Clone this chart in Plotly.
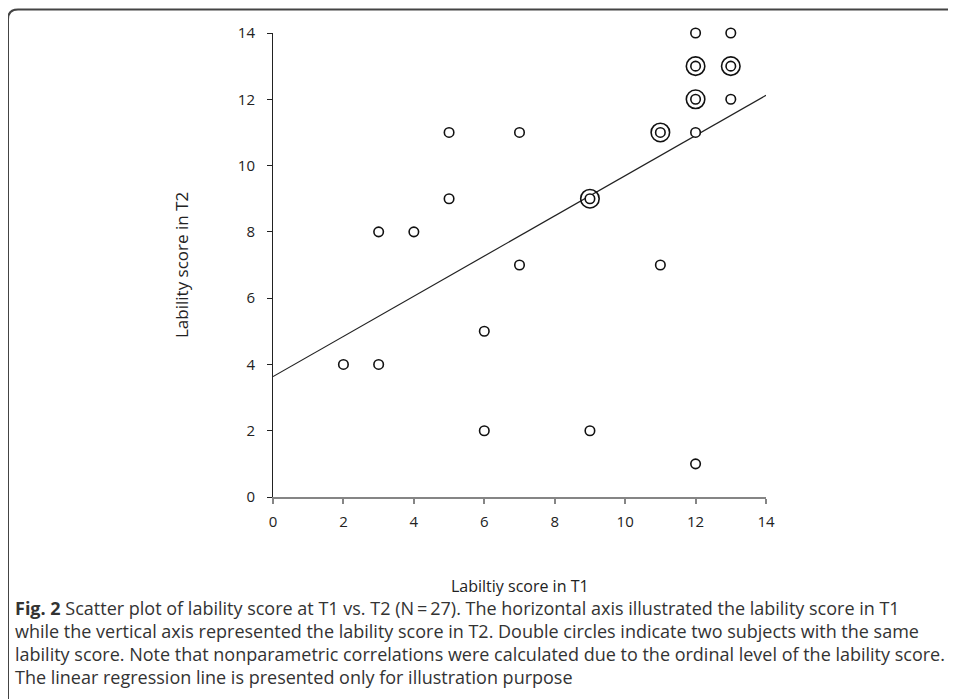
import numpy as np
import plotly.graph_objects as go

# Single subjects (T1, T2)
single_t1 = [2, 3, 3, 4, 5, 5, 6, 6, 7, 7, 9, 11, 12, 12, 12, 13, 13]
single_t2 = [4, 4, 8, 8, 9, 11, 5, 2, 11, 7, 2, 7, 11, 1, 14, 14, 12]
# Double circles: two subjects with the same scores
double_t1 = [9, 11, 12, 12, 13]
double_t2 = [9, 11, 13, 12, 13]

x_ticks = [0, 2, 4, 6, 8, 10, 12, 14]
y_ticks = [0, 2, 4, 6, 8, 10, 12, 14]

caption_lines = [
    "<b>Fig. 2</b> Scatter plot of lability score at T1 vs. T2 (N\u2009=\u200927). The horizontal axis illustrated the lability score in T1",
    "while the vertical axis represented the lability score in T2. Double circles indicate two subjects with the same",
    "lability score. Note that nonparametric correlations were calculated due to the ordinal level of the lability score.",
    "The linear regression line is presented only for illustration purpose",
]

# regression over all 27 subjects
all_x = np.array(single_t1 + double_t1 + double_t1, dtype=float)
all_y = np.array(single_t2 + double_t2 + double_t2, dtype=float)
slope, intercept = np.polyfit(all_x, all_y, 1)
line_x = np.array([0.0, 14.0])
line_y = intercept + slope * line_x

OFF = 8  # page body margin
W, H = 956 - OFF, 699 - OFF
L, R, T, B = 273 - OFF, 190, 33 - OFF, 202
pw, ph = W - L - R, H - T - B


def px(x):  # screen x -> paper
    return (x - OFF - L) / pw


def py(y):  # screen y -> paper
    return (H - B - (y - OFF)) / ph


fig = go.Figure()
fig.add_trace(go.Scatter(x=line_x, y=line_y, mode="lines",
                         line=dict(color="#222222", width=1.2),
                         hoverinfo="skip", showlegend=False, cliponaxis=False))
fig.add_trace(go.Scatter(x=double_t1, y=double_t2, mode="markers",
                         marker=dict(symbol="circle-open", size=18.5,
                                     color="#111111", line=dict(width=1.6)),
                         showlegend=False, cliponaxis=False))
fig.add_trace(go.Scatter(x=single_t1 + double_t1, y=single_t2 + double_t2, mode="markers",
                         marker=dict(symbol="circle", size=9.5, color="white",
                                     line=dict(color="#111111", width=1.6)),
                         showlegend=False, cliponaxis=False))

tick_font = dict(family="Open Sans", size=15, color="#222222")
fig.update_xaxes(range=[0, 14], tickvals=x_ticks, ticktext=[str(v) for v in x_ticks],
                 showgrid=False, zeroline=False, showline=True, linecolor="#858585",
                 linewidth=2, ticks="outside", ticklen=5, tickcolor="#858585", tickwidth=1.5,
                 tickfont=tick_font, ticklabelstandoff=5, fixedrange=True)
fig.update_yaxes(range=[0, 14], tickvals=y_ticks, ticktext=[str(v) for v in y_ticks],
                 showgrid=False, zeroline=False, showline=True, linecolor="#222222",
                 linewidth=1, ticks="outside", ticklen=5, tickcolor="#222222", tickwidth=1,
                 tickfont=tick_font, ticklabelstandoff=9, fixedrange=True)

annotations = [
    dict(text="Labiltiy score in T1", x=0.5, y=py(586), xref="paper", yref="paper",
         xanchor="center", yanchor="middle", showarrow=False,
         font=dict(family="Open Sans", size=16, color="#222222")),
    dict(text="Lability score in T2", x=px(181), y=py(265), xref="paper", yref="paper",
         xanchor="center", yanchor="middle", showarrow=False, textangle=-90,
         font=dict(family="Open Sans", size=17, color="#222222")),
]
for i, line in enumerate(caption_lines):
    annotations.append(dict(text=line, x=px(13), y=py(608 + 23 * i), xref="paper", yref="paper",
                            xanchor="left", yanchor="middle", showarrow=False, align="left",
                            font=dict(family="Open Sans", size=18, color="#333333")))

# figure frame (top and left edges with rounded corner)
xl, yt, r = px(8), py(9.5), 10
frame_path = (f"M {xl} {py(710)} L {xl} {py(9.5 + r)} "
              f"Q {xl} {yt} {px(8 + r)} {yt} L {px(970)} {yt}")

fig.update_layout(
    width=W, height=H, margin=dict(l=L, r=R, t=T, b=B, autoexpand=False),
    paper_bgcolor="white", plot_bgcolor="white",
    annotations=annotations,
    shapes=[dict(type="path", path=frame_path, xref="paper", yref="paper",
                 line=dict(color="#444444", width=2))],
)

fig.write_html("out.html")
